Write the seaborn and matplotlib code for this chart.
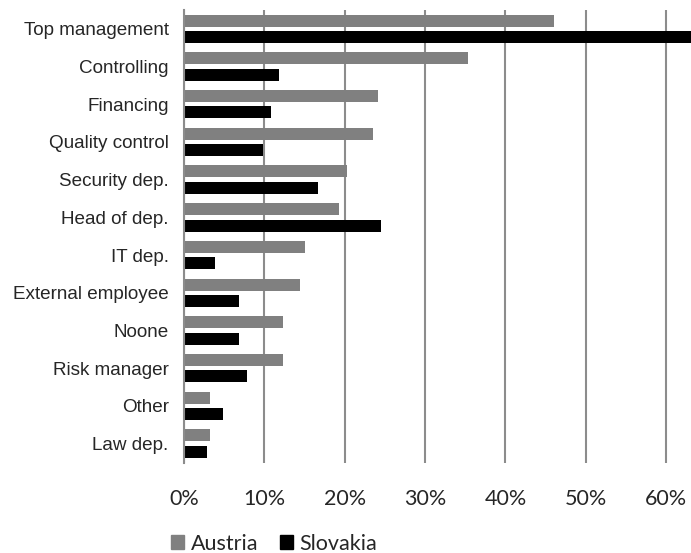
import pandas as pd
import seaborn as sns
import matplotlib.pyplot as plt
from matplotlib.patches import Patch

categories = ["Top management", "Controlling", "Financing", "Quality control",
              "Security dep.", "Head of dep.", "IT dep.", "External employee",
              "Noone", "Risk manager", "Other", "Law dep."]
austria = [46.0, 35.3, 24.1, 23.5, 20.3, 19.3, 15.0, 14.4, 12.3, 12.3, 3.2, 3.2]
slovakia = [64.0, 11.8, 10.8, 9.8, 16.7, 24.5, 3.9, 6.9, 6.9, 7.8, 4.9, 2.9]
countries = ["Austria", "Slovakia"]
colors = {"Austria": "#808080", "Slovakia": "#000000"}
xticks = [0, 10, 20, 30, 40, 50, 60]

df = pd.DataFrame({
    "Category": categories * 2,
    "Share": austria + slovakia,
    "Country": ["Austria"] * len(categories) + ["Slovakia"] * len(categories),
})

sns.set_style("white")
plt.rcParams["font.family"] = ["Liberation Sans", "DejaVu Sans"]

W, H = 691, 553
fig = plt.figure(figsize=(W / 100, H / 100), dpi=100)
ax = fig.add_axes([184 / W, 1 - 462.5 / H, 1 - 184 / W, (462.5 - 10) / H])

sns.barplot(data=df, y="Category", x="Share", hue="Country", orient="h",
            palette=colors, width=0.87, gap=0.27, linewidth=0,
            legend=False, ax=ax)

ax.set_xlim(0, 63.1)
ax.set_ylim(len(categories) - 0.5, -0.5)
ax.set_xticks(xticks)
ax.set_xticklabels([f"{v}%" for v in xticks], family=["Lato", "DejaVu Sans"], fontsize=15.5)
ax.tick_params(axis="x", length=0, pad=19)
ax.tick_params(axis="y", length=0, pad=11, labelsize=13.6)
ax.set_xlabel("")
ax.set_ylabel("")

ax.grid(axis="x", color="#8c8c8c", linewidth=1.5)
ax.set_axisbelow(True)
for s in ["top", "right", "bottom"]:
    ax.spines[s].set_visible(False)
ax.spines["left"].set_color("#8c8c8c")
ax.spines["left"].set_linewidth(1.5)

handles = [Patch(color=colors[c], label=c) for c in countries]
fig.legend(handles=handles, loc="center", bbox_to_anchor=(274 / W, 1 - 544 / H),
           ncol=2, frameon=False, handlelength=0.62, handleheight=0.62,
           handletextpad=0.3, columnspacing=1.0,
           prop={"family": ["Lato", "DejaVu Sans"], "size": 15.5})

fig.savefig("out.png", dpi=100)
